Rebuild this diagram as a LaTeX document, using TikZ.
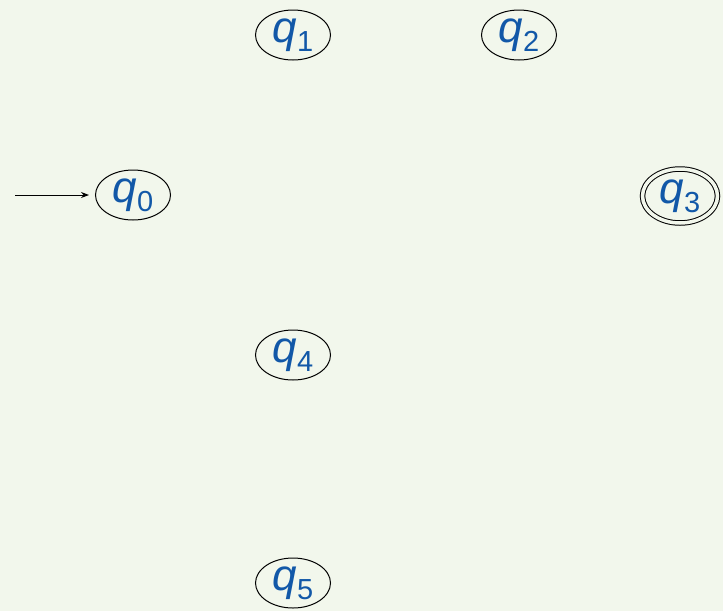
\documentclass[tikz,border=0pt]{standalone}
\usepackage{fontspec}
\setmainfont{Liberation Sans}
\usetikzlibrary{shapes.geometric,arrows.meta}
\definecolor{bgc}{RGB}{242,247,236}
\definecolor{qblue}{RGB}{18,88,168}
\newcommand{\stlab}[1]{{\itshape q}\kern0pt\raisebox{-0.2em}{\fontsize{29}{30}\selectfont #1}}
\tikzset{
  state/.style={ellipse, draw=black, line width=1pt, minimum width=75pt, minimum height=50pt, inner sep=0pt,
    text=qblue, font=\fontsize{44}{46}\selectfont},
  accstate/.style={state, double=bgc, double distance=3.5pt, minimum width=75pt, minimum height=54pt},
  initarrow/.style={-{Stealth[length=8pt,width=6pt]}, line width=1pt, shorten >=6pt}
}
\begin{document}
\begin{tikzpicture}[x=1pt,y=-1pt]
\fill[bgc] (0,0) rectangle (723,611);
\useasboundingbox (0,0) rectangle (723,611);
\node[state] (q0) at (133,195) {\stlab{0}};
\node[state] (q1) at (293,35) {\stlab{1}};
\node[state] (q2) at (519,35) {\stlab{2}};
\node[accstate] (q3) at (680,196) {\stlab{3}};
\node[state] (q4) at (293,355) {\stlab{4}};
\node[state] (q5) at (293,583) {\stlab{5}};
\coordinate (start) at (15,195);
\draw[initarrow] (start) -- (q0);
\end{tikzpicture}
\end{document}
